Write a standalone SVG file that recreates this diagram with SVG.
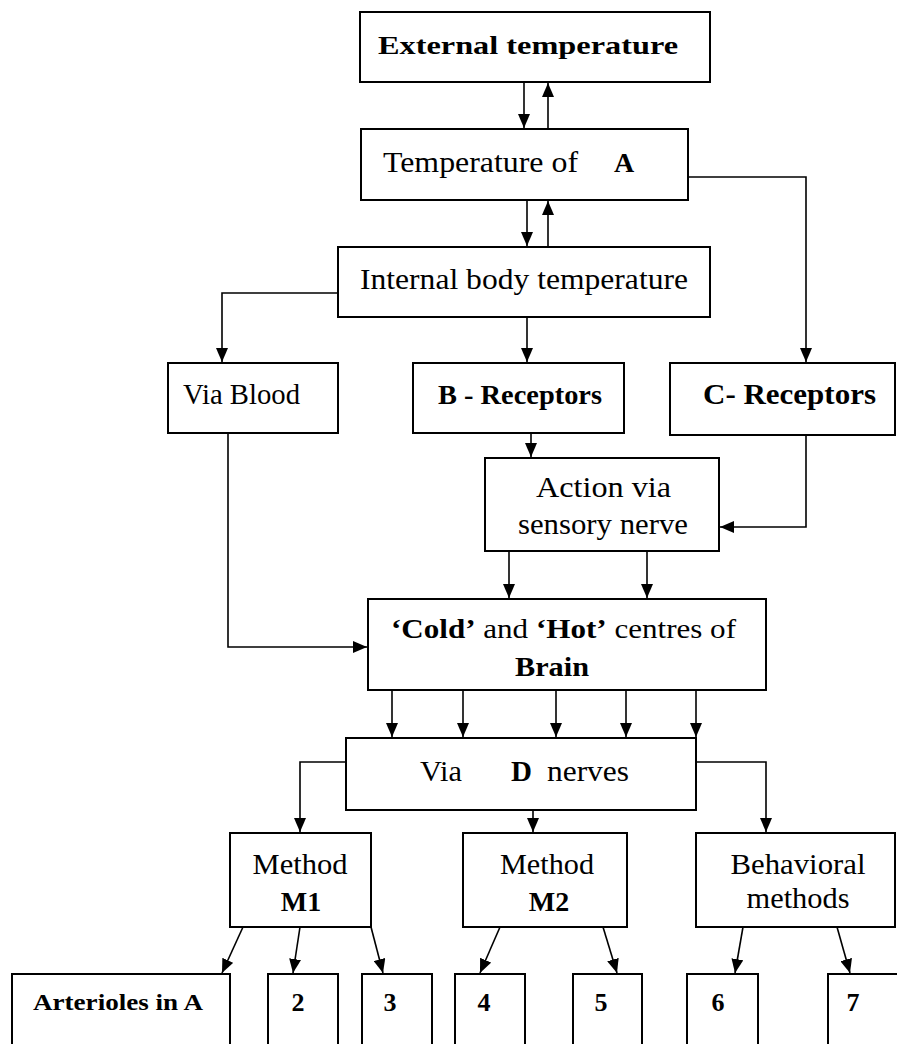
<svg xmlns="http://www.w3.org/2000/svg" width="897" height="1044" viewBox="0 0 897 1044">
<defs>
<style>
.box{fill:#fff;stroke:#000;stroke-width:2}
.c{fill:none;stroke:#000;stroke-width:1.6;marker-end:url(#ah)}
text{font-family:"Liberation Serif","Times New Roman",serif;fill:#000}
.r{font-size:29px}
.b{font-weight:bold}
.m{text-anchor:middle}
</style>
<marker id="ah" markerUnits="userSpaceOnUse" markerWidth="14" markerHeight="12" refX="14" refY="6" orient="auto">
<path d="M0,0 L14,6 L0,12 z" fill="#000"/>
</marker>
</defs>
<rect width="897" height="1044" fill="#fff"/>
<g id="connectors">
<path class="c" d="M524,82 V128"/>
<path class="c" d="M548,129 V83"/>
<path class="c" d="M527,200 V246"/>
<path class="c" d="M548,247 V201"/>
<path class="c" d="M688,177 H806 V362"/>
<path class="c" d="M338,293 H222 V362"/>
<path class="c" d="M527,317 V362"/>
<path class="c" d="M531,433 V457"/>
<path class="c" d="M806,435 V527 H720"/>
<path class="c" d="M228,433 V647 H367"/>
<path class="c" d="M509,551 V598"/>
<path class="c" d="M647,551 V598"/>
<path class="c" d="M392,690 V737"/>
<path class="c" d="M463,690 V737"/>
<path class="c" d="M556,690 V737"/>
<path class="c" d="M626,690 V737"/>
<path class="c" d="M696,690 V737"/>
<path class="c" d="M346,762 H300 V832"/>
<path class="c" d="M533,810 V832"/>
<path class="c" d="M696,762 H766 V832"/>
<path class="c" d="M243,927 L222,973"/>
<path class="c" d="M300,927 L293,973"/>
<path class="c" d="M371,927 L383,973"/>
<path class="c" d="M500,927 L480,973"/>
<path class="c" d="M603,927 L617,973"/>
<path class="c" d="M743,927 L735,973"/>
<path class="c" d="M837,927 L850,973"/>
</g>
<g id="external"><rect class="box" x="360" y="12" width="350" height="70"/><text class="b" x="378" y="54" font-size="25" textLength="300" lengthAdjust="spacingAndGlyphs">External  temperature</text></g>
<g id="tempA"><rect class="box" x="361" y="129" width="327" height="71"/><text class="r" x="383" y="172" textLength="195" lengthAdjust="spacingAndGlyphs">Temperature of</text><text class="b" x="614" y="172" font-size="28">A</text></g>
<g id="internal"><rect class="box" x="338" y="247" width="372" height="70"/><text class="r" x="360" y="289" textLength="328" lengthAdjust="spacingAndGlyphs">Internal body  temperature</text></g>
<g id="viaBlood"><rect class="box" x="168" y="363" width="170" height="70"/><text class="r" x="183" y="404" textLength="117" lengthAdjust="spacingAndGlyphs">Via Blood</text></g>
<g id="bReceptors"><rect class="box" x="413" y="363" width="211" height="70"/><text class="b" x="438" y="404" font-size="27" textLength="164" lengthAdjust="spacingAndGlyphs">B - Receptors</text></g>
<g id="cReceptors"><rect class="box" x="670" y="363" width="225" height="72"/><text class="b" x="703" y="404" font-size="30" textLength="173" lengthAdjust="spacingAndGlyphs">C- Receptors</text></g>
<g id="action"><rect class="box" x="485" y="458" width="234" height="93"/><text class="r" x="536" y="497" textLength="135" lengthAdjust="spacingAndGlyphs">Action  via</text><text class="r" x="518" y="534" textLength="170" lengthAdjust="spacingAndGlyphs">sensory nerve</text></g>
<g id="brain"><rect class="box" x="368" y="599" width="398" height="91"/><text x="391" y="638" font-size="28" textLength="345" lengthAdjust="spacingAndGlyphs"><tspan class="b">‘Cold’</tspan> and <tspan class="b">‘Hot’</tspan> centres of</text><text class="b" x="515" y="676" font-size="28" textLength="74" lengthAdjust="spacingAndGlyphs">Brain</text></g>
<g id="viaD"><rect class="box" x="346" y="738" width="350" height="72"/><text class="r" x="420" y="781" textLength="42" lengthAdjust="spacingAndGlyphs">Via</text><text class="b" x="511" y="781" font-size="29">D</text><text class="r" x="547" y="781" textLength="82" lengthAdjust="spacingAndGlyphs">nerves</text></g>
<g id="m1"><rect class="box" x="230" y="833" width="141" height="94"/><text class="r m" x="300" y="874" textLength="95" lengthAdjust="spacingAndGlyphs">Method</text><text class="b m" x="301" y="911" font-size="28">M1</text></g>
<g id="m2"><rect class="box" x="463" y="833" width="164" height="94"/><text class="r m" x="547" y="874" textLength="94" lengthAdjust="spacingAndGlyphs">Method</text><text class="b m" x="549" y="911" font-size="28">M2</text></g>
<g id="behavioral"><rect class="box" x="696" y="833" width="199" height="94"/><text class="r m" x="798" y="874" textLength="135" lengthAdjust="spacingAndGlyphs">Behavioral</text><text class="r m" x="798" y="908" textLength="103" lengthAdjust="spacingAndGlyphs">methods</text></g>
<g id="arterioles"><rect class="box" x="12" y="974" width="218" height="86"/><text class="b" x="33" y="1010" font-size="24" textLength="170" lengthAdjust="spacingAndGlyphs">Arterioles in  A</text></g>
<g id="n2"><rect class="box" x="268" y="974" width="70" height="86"/><text class="b m" x="298" y="1011" font-size="26">2</text></g>
<g id="n3"><rect class="box" x="362" y="974" width="70" height="86"/><text class="b m" x="390" y="1011" font-size="26">3</text></g>
<g id="n4"><rect class="box" x="455" y="974" width="70" height="86"/><text class="b m" x="484" y="1011" font-size="26">4</text></g>
<g id="n5"><rect class="box" x="573" y="974" width="69" height="86"/><text class="b m" x="601" y="1011" font-size="26">5</text></g>
<g id="n6"><rect class="box" x="687" y="974" width="71" height="86"/><text class="b m" x="718" y="1011" font-size="26">6</text></g>
<g id="n7"><rect class="box" x="828" y="974" width="80" height="86"/><text class="b m" x="853" y="1011" font-size="26">7</text></g>
</svg>
